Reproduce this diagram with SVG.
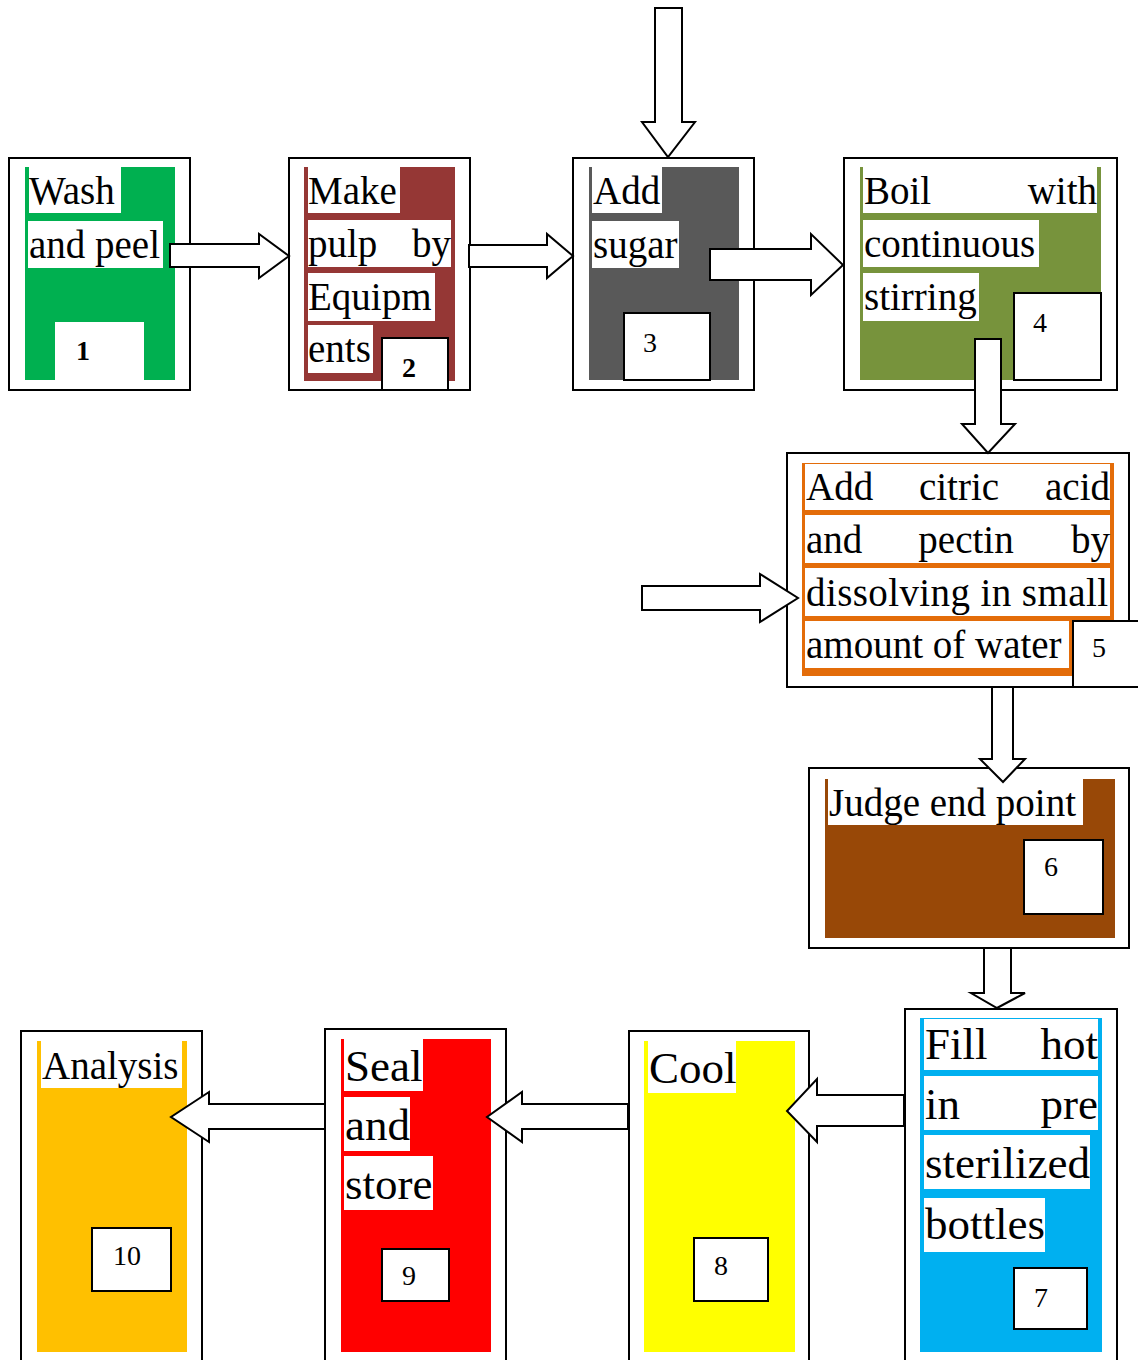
<svg xmlns="http://www.w3.org/2000/svg" width="1138" height="1360" viewBox="0 0 1138 1360">
<style>
.outer{fill:#fff;stroke:#000;stroke-width:2}
.hl{fill:#fff}
.num{fill:#fff;stroke:#000;stroke-width:2}
.t{font-family:"Liberation Serif","Times New Roman",serif;font-size:39px;fill:#000}
.tl{font-family:"Liberation Serif","Times New Roman",serif;font-size:45px;fill:#000}
.n{font-family:"Liberation Serif","Times New Roman",serif;font-size:28px;fill:#000;text-anchor:middle}
.nb{font-weight:bold}
.e{text-anchor:end}
.m{text-anchor:middle}
.arrow{fill:#fff;stroke:#000;stroke-width:2;stroke-linejoin:miter}
</style>
<rect width="1138" height="1360" fill="#fff"/>
<g id="node1">
<rect class="outer" x="9" y="158" width="181" height="232"/>
<rect x="25" y="167" width="150" height="213" fill="#00B050"/>
<rect class="hl" x="29" y="167" width="92" height="46"/>
<text class="t" x="29" y="204">Wash</text>
<rect class="hl" x="28" y="221" width="135" height="47"/>
<text class="t" x="29" y="258">and peel</text>
<rect class="hl" x="55" y="322" width="89" height="58"/>
<text class="n nb" x="83" y="360">1</text>
</g>
<g id="node2">
<rect class="outer" x="289" y="158" width="181" height="232"/>
<rect x="304" y="167" width="151" height="214" fill="#953735"/>
<rect class="hl" x="308" y="167" width="92" height="46"/>
<text class="t" x="308" y="204">Make</text>
<rect class="hl" x="308" y="220" width="143" height="47"/>
<text class="t" x="308" y="257">pulp</text>
<text class="t e" x="451" y="257">by</text>
<rect class="hl" x="308" y="273" width="127" height="48"/>
<text class="t" x="308" y="310">Equipm</text>
<rect class="hl" x="308" y="325" width="65" height="48"/>
<text class="t" x="308" y="362">ents</text>
<rect class="num" x="382" y="338" width="66" height="52"/>
<text class="n nb" x="409" y="377">2</text>
</g>
<g id="node3">
<rect class="outer" x="573" y="158" width="181" height="232"/>
<rect x="589" y="167" width="150" height="213" fill="#595959"/>
<rect class="hl" x="592" y="167" width="70" height="46"/>
<text class="t" x="593" y="204">Add</text>
<rect class="hl" x="592" y="221" width="87" height="47"/>
<text class="t" x="593" y="258">sugar</text>
<rect class="num" x="624" y="313" width="86" height="67"/>
<text class="n" x="650" y="352">3</text>
</g>
<g id="node4">
<rect class="outer" x="844" y="158" width="273" height="232"/>
<rect x="860" y="167" width="241" height="213" fill="#77933C"/>
<rect class="hl" x="863" y="167" width="234" height="46"/>
<text class="t" x="864" y="204">Boil</text>
<text class="t e" x="1097" y="204">with</text>
<rect class="hl" x="863" y="220" width="176" height="47"/>
<text class="t" x="864" y="257">continuous</text>
<rect class="hl" x="863" y="273" width="116" height="48"/>
<text class="t" x="864" y="310">stirring</text>
<rect class="num" x="1014" y="293" width="87" height="87"/>
<text class="n" x="1040" y="332">4</text>
</g>
<g id="node5">
<rect class="outer" x="787" y="453" width="342" height="234"/>
<rect x="802" y="463" width="312" height="213" fill="#E36C09"/>
<rect class="hl" x="805" y="464" width="305" height="46"/>
<text class="t" x="806" y="500">Add</text>
<text class="t m" x="959" y="500">citric</text>
<text class="t e" x="1110" y="500">acid</text>
<rect class="hl" x="805" y="515" width="305" height="48"/>
<text class="t" x="806" y="553">and</text>
<text class="t m" x="966" y="553">pectin</text>
<text class="t e" x="1110" y="553">by</text>
<rect class="hl" x="805" y="568" width="305" height="48"/>
<text class="t" x="806" y="606" textLength="302" lengthAdjust="spacing">dissolving in small</text>
<rect class="hl" x="805" y="621" width="264" height="47"/>
<text class="t" x="806" y="658">amount of water</text>
<rect class="num" x="1073" y="621" width="75" height="66"/>
<text class="n" x="1099" y="657">5</text>
</g>
<g id="node6">
<rect class="outer" x="809" y="768" width="320" height="180"/>
<rect x="825" y="779" width="290" height="159" fill="#984807"/>
<rect class="hl" x="828" y="779" width="255" height="46"/>
<text class="t" x="829" y="816">Judge end point</text>
<rect class="num" x="1024" y="840" width="79" height="74"/>
<text class="n" x="1051" y="876">6</text>
</g>
<g id="node7">
<rect class="outer" x="905" y="1009" width="212" height="370"/>
<rect x="920" y="1018" width="182" height="334" fill="#00B0F0"/>
<rect class="hl" x="924" y="1019" width="174" height="51"/>
<text class="tl" x="925" y="1059">Fill</text>
<text class="tl e" x="1098" y="1059">hot</text>
<rect class="hl" x="924" y="1076" width="174" height="54"/>
<text class="tl" x="925" y="1119">in</text>
<text class="tl e" x="1098" y="1119">pre</text>
<rect class="hl" x="924" y="1135" width="166" height="54"/>
<text class="tl" x="925" y="1178">sterilized</text>
<rect class="hl" x="924" y="1198" width="121" height="54"/>
<text class="tl" x="925" y="1239">bottles</text>
<rect class="num" x="1014" y="1268" width="73" height="61"/>
<text class="n" x="1041" y="1307">7</text>
</g>
<g id="node8">
<rect class="outer" x="629" y="1031" width="180" height="350"/>
<rect x="644" y="1041" width="151" height="311" fill="#FFFF00"/>
<rect class="hl" x="648" y="1041" width="88" height="52"/>
<text class="tl" x="649" y="1083">Cool</text>
<rect class="num" x="694" y="1238" width="74" height="63"/>
<text class="n" x="721" y="1275">8</text>
</g>
<g id="node9">
<rect class="outer" x="325" y="1029" width="181" height="350"/>
<rect x="341" y="1039" width="150" height="313" fill="#FF0000"/>
<rect class="hl" x="344" y="1039" width="79" height="52"/>
<text class="tl" x="345" y="1081">Seal</text>
<rect class="hl" x="344" y="1097" width="66" height="54"/>
<text class="tl" x="345" y="1140">and</text>
<rect class="hl" x="344" y="1156" width="89" height="54"/>
<text class="tl" x="345" y="1199">store</text>
<rect class="num" x="382" y="1249" width="67" height="52"/>
<text class="n" x="409" y="1285">9</text>
</g>
<g id="node10">
<rect class="outer" x="21" y="1031" width="181" height="350"/>
<rect x="37" y="1041" width="150" height="311" fill="#FFC000"/>
<rect class="hl" x="41" y="1041" width="141" height="47"/>
<text class="t" x="42" y="1079">Analysis</text>
<rect class="num" x="92" y="1228" width="79" height="63"/>
<text class="n" x="127" y="1265">10</text>
</g>
<g id="connectors">
<polygon class="arrow" points="170,244 259,244 259,234 289,256 259,278 259,267 170,267"/>
<polygon class="arrow" points="469,245 547,245 547,234 573,256 547,278 547,267 469,267"/>
<polygon class="arrow" points="655,8 682,8 682,122 695,122 668,157 642,122 655,122"/>
<polygon class="arrow" points="710,249 811,249 811,234 843,265 811,295 811,280 710,280"/>
<polygon class="arrow" points="975,339 1001,339 1001,424 1015,424 988,453 962,424 975,424"/>
<polygon class="arrow" points="642,586 760,586 760,574 798,598 760,622 760,610 642,610"/>
<polygon class="arrow" points="992,687 1013,687 1013,759 1025,759 1003,782 980,759 992,759"/>
<polygon class="arrow" points="984,948 1011,948 1011,993 1025,993 997,1008 971,993 984,993"/>
<polygon class="arrow" points="904,1095 817,1095 817,1079 787,1111 817,1142 817,1126 904,1126"/>
<polygon class="arrow" points="628,1104 522,1104 522,1092 487,1117 522,1142 522,1129 628,1129"/>
<polygon class="arrow" points="325,1104 209,1104 209,1092 171,1117 209,1142 209,1129 325,1129"/>
</g>
</svg>
